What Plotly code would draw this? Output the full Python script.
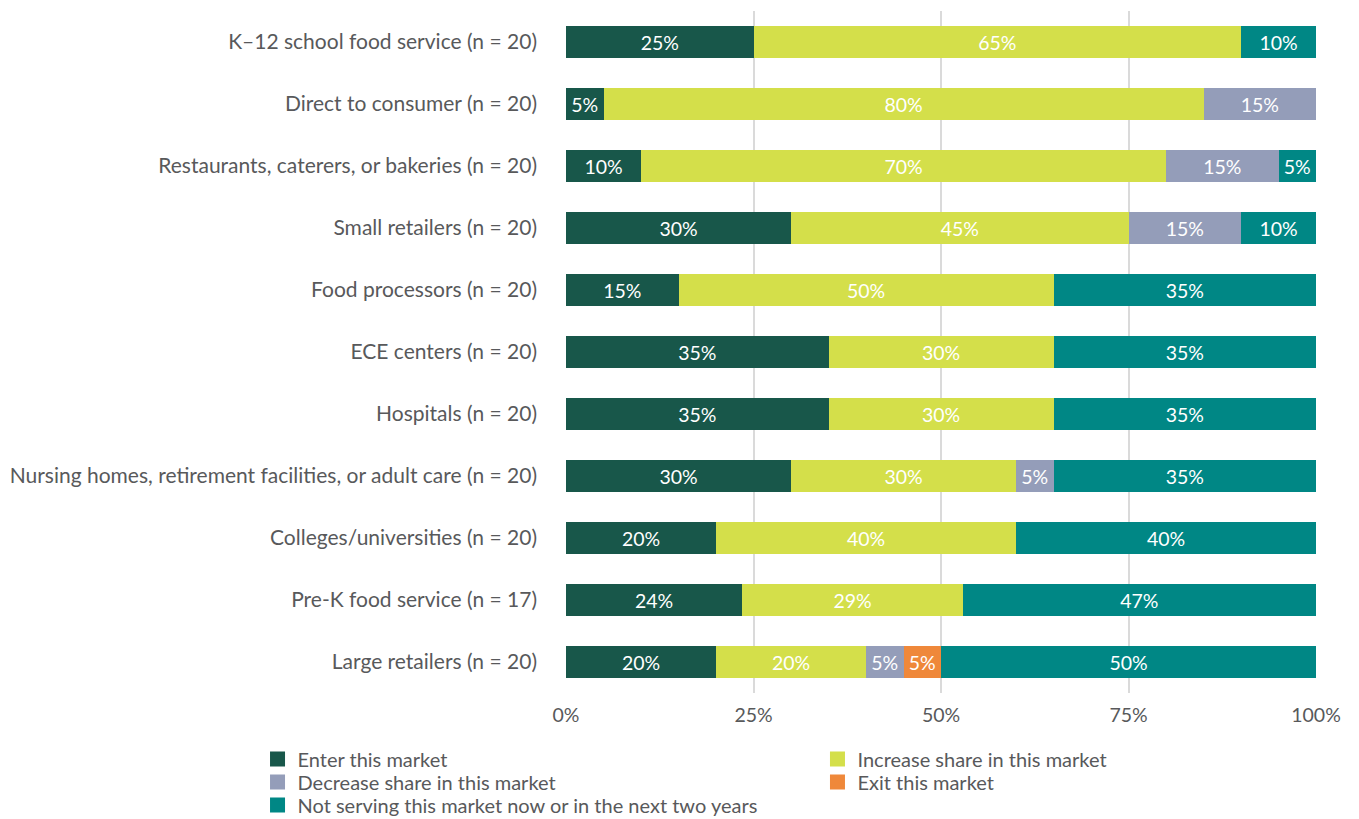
import plotly.graph_objects as go

categories = [
    "K–12 school food service (n = 20)",
    "Direct to consumer (n = 20)",
    "Restaurants, caterers, or bakeries (n = 20)",
    "Small retailers (n = 20)",
    "Food processors (n = 20)",
    "ECE centers (n = 20)",
    "Hospitals (n = 20)",
    "Nursing homes, retirement facilities, or adult care (n = 20)",
    "Colleges/universities (n = 20)",
    "Pre-K food service (n = 17)",
    "Large retailers (n = 20)",
]

enter = [25, 5, 10, 30, 15, 35, 35, 30, 20, 23.5, 20]
increase = [65, 80, 70, 45, 50, 30, 30, 30, 40, 29.4, 20]
decrease = [0, 15, 15, 15, 0, 0, 0, 5, 0, 0, 5]
exit_ = [0, 0, 0, 0, 0, 0, 0, 0, 0, 0, 5]
not_serving = [10, 0, 5, 10, 35, 35, 35, 35, 40, 47.1, 50]

x_ticks = [0, 25, 50, 75, 100]
x_tick_labels = ["0%", "25%", "50%", "75%", "100%"]

series = [
    ("Enter this market", enter, "#18574A", "legend"),
    ("Increase share in this market", increase, "#D4DF4A", "legend2"),
    ("Decrease share in this market", decrease, "#949DB9", "legend3"),
    ("Exit this market", exit_, "#EF883A", "legend4"),
    ("Not serving this market now or in the next two years", not_serving, "#008785", "legend5"),
]

FONT = "Lato"
TXT = "#58595B"
fig = go.Figure()
for name, vals, color, lg in series:
    texts = [f"{round(v)}%" if v > 0 else "" for v in vals]
    fig.add_trace(go.Bar(
        y=categories, x=vals, name=name, orientation="h",
        marker=dict(color=color, line=dict(width=0)),
        text=texts, textposition="inside", insidetextanchor="middle",
        textangle=0, insidetextfont=dict(color="white", size=19.5, family=FONT),
        width=0.52, hoverinfo="x+name", showlegend=False,
    ))
# legend entries (square swatches)
for name, vals, color, lg in series:
    fig.add_trace(go.Scatter(
        x=[None], y=[None], mode="markers", name=name,
        marker=dict(symbol="square", size=15, color=color),
        legend=lg, showlegend=True,
    ))

col1 = -0.4113
col2 = 0.3353
def ypx(p):
    return (693 - p) / 682.0

legend_common = dict(orientation="h", yanchor="middle", xanchor="left",
                     font=dict(size=20, color=TXT, family=FONT),
                     bgcolor="rgba(0,0,0,0)", borderwidth=0)

fig.update_layout(
    barmode="stack",
    width=1359, height=819,
    margin=dict(l=566, r=43, t=11, b=126, autoexpand=False),
    paper_bgcolor="white", plot_bgcolor="white",
    font=dict(family=FONT, size=21, color=TXT),
    uniformtext=dict(minsize=19.5, mode="show"),
    xaxis=dict(
        range=[0, 100], tickvals=x_ticks, ticktext=x_tick_labels,
        showgrid=True, gridcolor="#DADADA", gridwidth=2,
        zeroline=False, showline=False, ticks="",
        tickfont=dict(size=19.5, color=TXT), ticklabelstandoff=8,
    ),
    yaxis=dict(
        autorange="reversed", showgrid=False, ticks="", ticklen=0,
        tickfont=dict(size=21, color=TXT), automargin=False,
        ticklabelstandoff=28,
    ),
    legend=dict(x=col1, y=ypx(759), **legend_common),
    legend2=dict(x=col2, y=ypx(759), **legend_common),
    legend3=dict(x=col1, y=ypx(782), **legend_common),
    legend4=dict(x=col2, y=ypx(782), **legend_common),
    legend5=dict(x=col1, y=ypx(805), **legend_common),
)

fig.write_html("out.html")
